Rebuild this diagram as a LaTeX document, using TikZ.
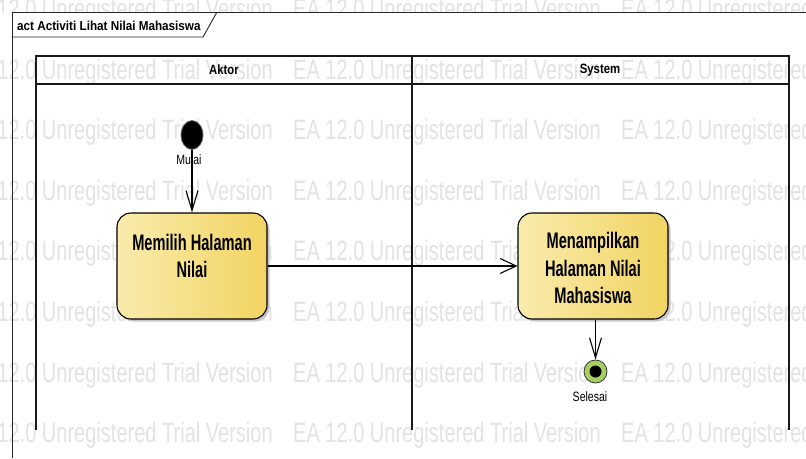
\documentclass[tikz,border=0pt]{standalone}
\usepackage{fontspec}
\setmainfont{Liberation Sans}
\newfontfamily\wmfont[FakeStretch=0.715]{Liberation Sans}
\newfontfamily\actfont[FakeStretch=0.65]{Liberation Sans}
\newfontfamily\lanefont[FakeStretch=0.84]{Liberation Sans}
\newfontfamily\titlefont[FakeStretch=0.9]{Liberation Sans}
\newfontfamily\smallfont[FakeStretch=0.78]{Liberation Sans}
\usetikzlibrary{arrows.meta,calc,shapes.geometric}

\definecolor{wmgray}{RGB}{227,227,227}
\definecolor{actL}{RGB}{249,235,172}
\definecolor{actR}{RGB}{242,212,98}
\definecolor{finalgreen}{RGB}{168,208,96}

\tikzset{
  wm/.style={anchor=base west, inner sep=0pt, text=wmgray,
    font=\wmfont\fontsize{28}{28}\selectfont},
  frameline/.style={draw=black!85, line width=0.9pt},
  lane/.style={draw=black!90, line width=1.4pt},
  lanetitle/.style={inner sep=0pt, font=\lanefont\bfseries\fontsize{13.5}{15}\selectfont},
  action/.style={draw=black, line width=1.1pt, rounded corners=14pt,
    minimum width=150pt, minimum height=106pt, inner sep=0pt,
    left color=actL, right color=actR,
    preaction={fill=black!22, transform canvas={shift={(2.5pt,-2.5pt)}}}},
  acttext/.style={inner sep=0pt, align=center,
    font=\actfont\bfseries\fontsize{22.5}{27.5}\selectfont},
  initialnode/.style={ellipse, fill=black, draw=black!55, line width=0.8pt,
    minimum width=22pt, minimum height=29pt, inner sep=0pt},
  finalnode/.style={circle, fill=finalgreen, draw=black!80, line width=0.8pt,
    minimum size=23pt, inner sep=0pt},
  finalcore/.style={circle, fill=black, minimum size=12pt, inner sep=0pt},
  smalltext/.style={anchor=base, inner sep=0pt,
    font=\smallfont\fontsize{13.5}{15}\selectfont},
  flowh/.style={draw=black, line width=1.1pt,
    -{Straight Barb[length=16pt,width=15pt]}},
  flowv/.style={draw=black, line width=1.1pt,
    -{Straight Barb[length=20pt,width=12pt]}},
}

\begin{document}
\begin{tikzpicture}[x=1pt,y=-1pt]
  \useasboundingbox (0,0) rectangle (806,458);
  \fill[white] (0,0) rectangle (806,458);

  % trial-version watermark rows
  \begin{scope}
    \clip (0,0) rectangle (806,12);
    \foreach \x in {-35,293,621}
      \node[wm] (wm-0-\x) at (\x,18) {EA 12.0 Unregistered Trial Version};
  \end{scope}
  \foreach \r in {1,...,7}{
    \pgfmathsetmacro{\yy}{18.4+60.6*\r}
    \foreach \x in {-35,293,621}
      \node[wm] (wm-\r-\x) at (\x,\yy) {EA 12.0 Unregistered Trial Version};
  }

  % diagram frame with its name tab
  \draw[frameline] (12,458) -- (12,12) -- (806,12);
  \draw[frameline] (12,37) -- (203,37) -- (217,12);
  \node[anchor=base west, inner sep=0pt,
        font=\titlefont\bfseries\fontsize{13}{15}\selectfont]
        (title) at (17,30) {act Activiti Lihat Nilai Mahasiswa};

  % swimlanes
  \draw[lane] (36,56) rectangle (789,84);
  \draw[lane] (36,84) -- (36,430);
  \draw[lane] (412,56) -- (412,430);
  \draw[lane] (789,84) -- (789,430);
  \node[lanetitle] (aktor) at (224,70) {Aktor};
  \node[lanetitle] (system) at (600,70) {System};

  % initial node
  \node[initialnode] (start) at (192,135) {};
  \node[smalltext] (mulai) at (189,164) {Mulai};

  % actions
  \node[action] (b1) at (192,266) {};
  \node[acttext, anchor=north] (t1) at ($(b1.north)+(0,21.5)$) {Memilih Halaman\\Nilai};
  \node[action] (b2) at (593,266) {};
  \node[acttext, anchor=north] (t2) at ($(b2.north)+(0,20)$) {Menampilkan\\Halaman Nilai\\Mahasiswa};

  % final node
  \node[finalnode] (end) at (595.5,371.5) {};
  \node[finalcore] (endcore) at (end) {};
  \node[smalltext] (selesai) at (590,401) {Selesai};

  % control flows
  \draw[flowv] (start) -- (b1);
  \draw[flowh] (b1) -- (b2);
  \draw[flowv] (b2.south -| end) -- (end);
\end{tikzpicture}
\end{document}
